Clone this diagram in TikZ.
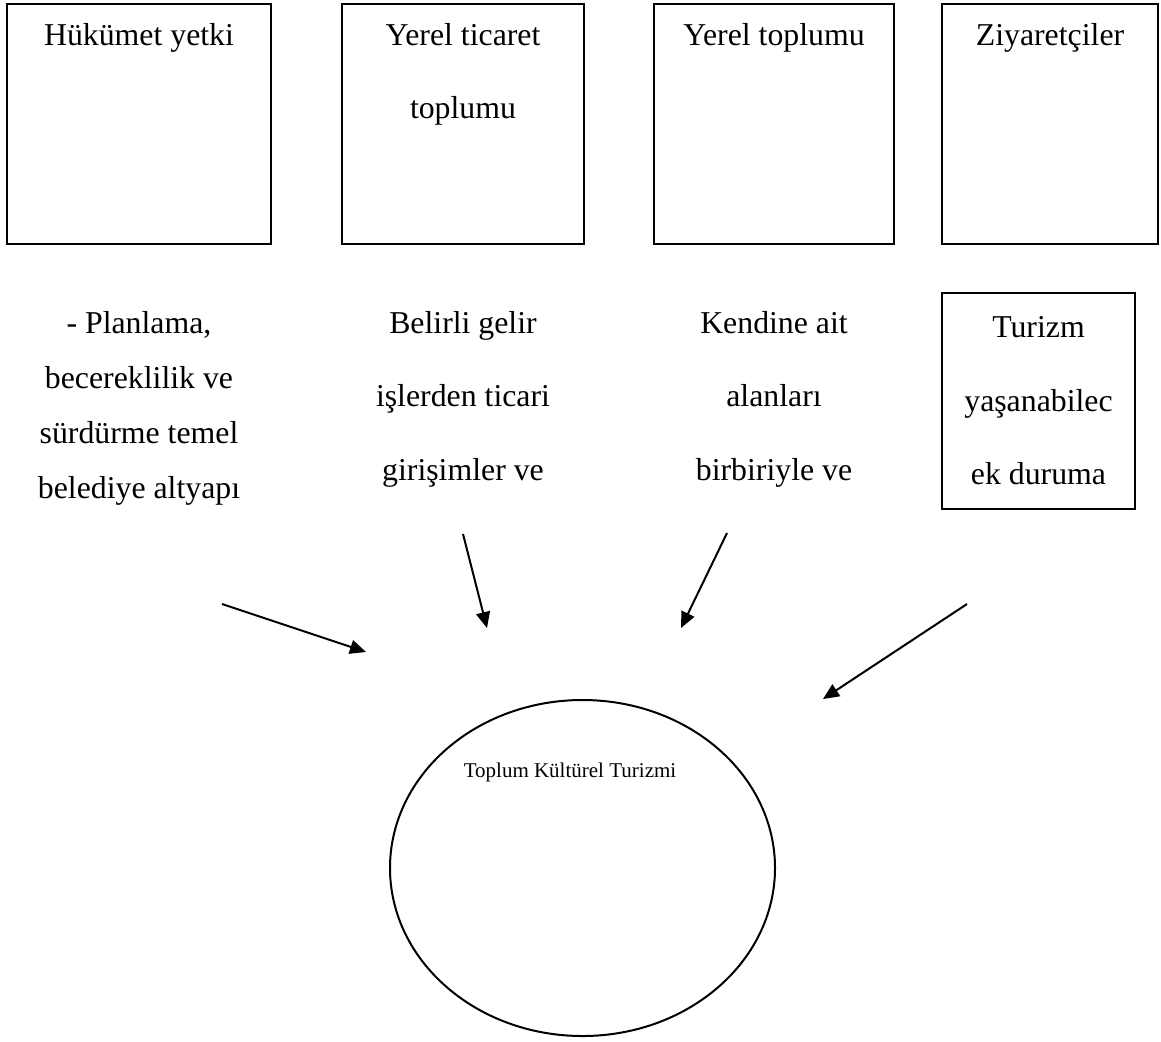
\documentclass[tikz,border=0pt]{standalone}
\usepackage{fontspec}
\setmainfont{Liberation Serif}
\usetikzlibrary{arrows.meta,shapes.geometric}

\begin{document}
\begin{tikzpicture}[->,>={Triangle[length=8pt,width=7pt]},x=0.5pt,y=-0.5pt,line width=1pt]
  \tikzstyle{box}=[draw,inner sep=0pt]
  \tikzstyle{txt}=[inner sep=0pt,anchor=base,align=center,font=\fontsize{15.9}{36.75}\selectfont]
  \tikzstyle{dense}=[txt,font=\fontsize{15.9}{27.5}\selectfont]
  \useasboundingbox (0,0) rectangle (1161,1041);

  % top row, base anchor sits on the last line
  \node[box,minimum width=132pt,minimum height=120pt] (HB) at (139,124) {};
  \node[box,minimum width=121pt,minimum height=120pt] (TB) at (463,124) {};
  \node[box,minimum width=120pt,minimum height=120pt] (YB) at (774,124) {};
  \node[box,minimum width=108pt,minimum height=120pt] (ZB) at (1050,124) {};

  \node[txt] (H) at (139,45)    {Hükümet yetki};
  \node[txt] (T) at (463,118.5) {Yerel ticaret\\toplumu};
  \node[txt] (Y) at (774,45)    {Yerel toplumu};
  \node[txt] (Z) at (1050,45)   {Ziyaretçiler};

  \node[dense] (HD) at (139,498) {- Planlama,\\becereklilik ve\\sürdürme temel\\belediye altyapı};
  \node[txt]   (TD) at (463,480) {Belirli gelir\\işlerden ticari\\girişimler ve};
  \node[txt]   (YD) at (774,480) {Kendine ait\\alanları\\birbiriyle ve};
  \node[box,align=center,minimum width=96.5pt,minimum height=108pt,
        font=\fontsize{15.9}{36.75}\selectfont] (ZD) at (1038.5,401) {Turizm\\yaşanabilec\\ek duruma};

  \node[draw,ellipse,inner sep=0pt,minimum width=192.5pt,minimum height=168pt] (TK) at (582.5,868) {};
  \node[inner sep=0pt,anchor=base,font=\fontsize{10.5}{12}\selectfont] (TKT) at (570,777) {Toplum Kültürel Turizmi};

  \coordinate (h1) at (222,604); \coordinate (h2) at (366,652);
  \coordinate (t1) at (463,534); \coordinate (t2) at (487,628);
  \coordinate (y1) at (727,533); \coordinate (y2) at (681,628);
  \coordinate (z1) at (967,604); \coordinate (z2) at (823,699);

  \path (h1) edge (h2)
        (t1) edge (t2)
        (y1) edge (y2)
        (z1) edge (z2);
\end{tikzpicture}
\end{document}
